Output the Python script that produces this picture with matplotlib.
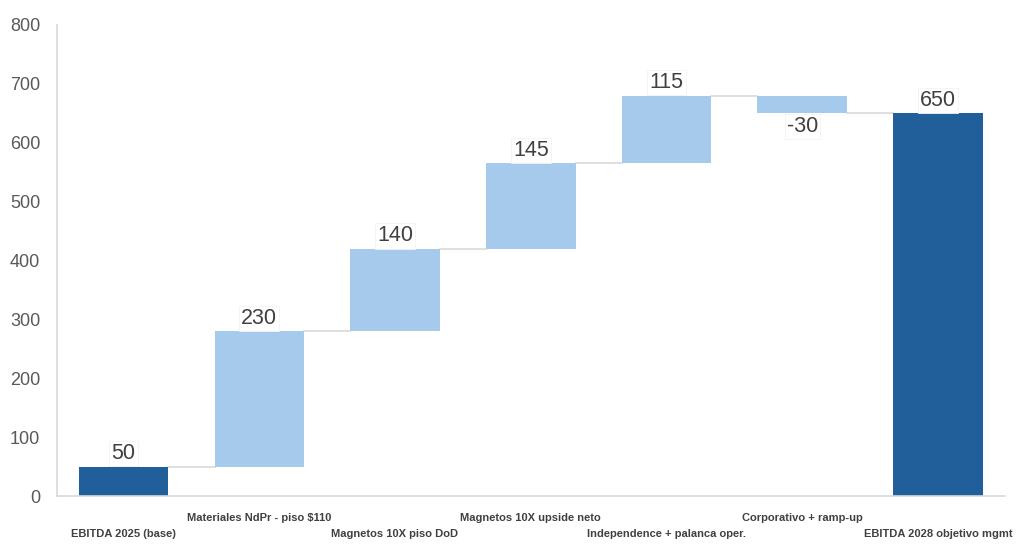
import numpy as np
import matplotlib.pyplot as plt

plt.rcParams['font.family'] = ['Liberation Sans', 'DejaVu Sans']

# Waterfall data: EBITDA bridge 2025 -> 2028
categories = ['EBITDA 2025 (base)', 'Materiales NdPr - piso $110', 'Magnetos 10X piso DoD',
              'Magnetos 10X upside neto', 'Independence + palanca oper.',
              'Corporativo + ramp-up', 'EBITDA 2028 objetivo mgmt']
values = [50, 230, 140, 145, 115, -30, 650]
is_total = [True, False, False, False, False, False, True]

dark_blue = '#215F9A'
light_blue = '#A6CAEC'

# compute bar bottoms from running total
bottoms = []
running = 0
for v, tot in zip(values, is_total):
    if tot:
        bottoms.append(0)
        running = v
    else:
        bottoms.append(running if v >= 0 else running + v)
        running += v

x = np.arange(len(categories))
width = 0.66

fig = plt.figure(figsize=(10.24, 5.55), dpi=100)
ax = fig.add_axes([0.0557, 0.1063, 0.9253, 0.8487])

colors = [dark_blue if t else light_blue for t in is_total]
heights = [abs(v) for v in values]
ax.bar(x, heights, width, bottom=bottoms, color=colors, zorder=2)

# connectors
running = 0
for i, (v, tot) in enumerate(zip(values, is_total)):
    running = v if tot else running + v
    if i < len(values) - 1:
        ax.plot([x[i] + width / 2, x[i + 1] - width / 2], [running, running],
                color='#D9D9D9', lw=1.2, zorder=1)

# value labels
for i, (v, b) in enumerate(zip(values, bottoms)):
    if v >= 0:
        y, va = b + abs(v) + 4, 'bottom'
    else:
        y, va = b - 5, 'top'
    ax.text(x[i], y, f'{v}', ha='center', va=va, fontsize=15.5, color='#404040',
            bbox=dict(facecolor='white', edgecolor='#F2F2F2', lw=0.6, pad=1.5), zorder=3)

ax.set_xlim(-0.49, len(categories) - 0.51)
ax.set_ylim(0, 800)
ax.set_yticks(range(0, 801, 100))
ax.tick_params(axis='y', length=0, labelsize=13, labelcolor='#595959', pad=12)
ax.set_xticks([])

# staggered category labels
for i, c in enumerate(categories):
    off = -27 if i % 2 == 0 else -16
    ax.annotate(c, (x[i], 0), xytext=(0, off), textcoords='offset points',
                ha='center', va='center', fontsize=8, fontweight='bold', color='#404040',
                annotation_clip=False)

for s in ['top', 'right']:
    ax.spines[s].set_visible(False)
ax.spines['left'].set_color('#D9D9D9')
ax.spines['bottom'].set_color('#D9D9D9')
ax.spines['left'].set_linewidth(1.2)
ax.spines['bottom'].set_linewidth(1.2)

fig.savefig('out.png', dpi=100)
